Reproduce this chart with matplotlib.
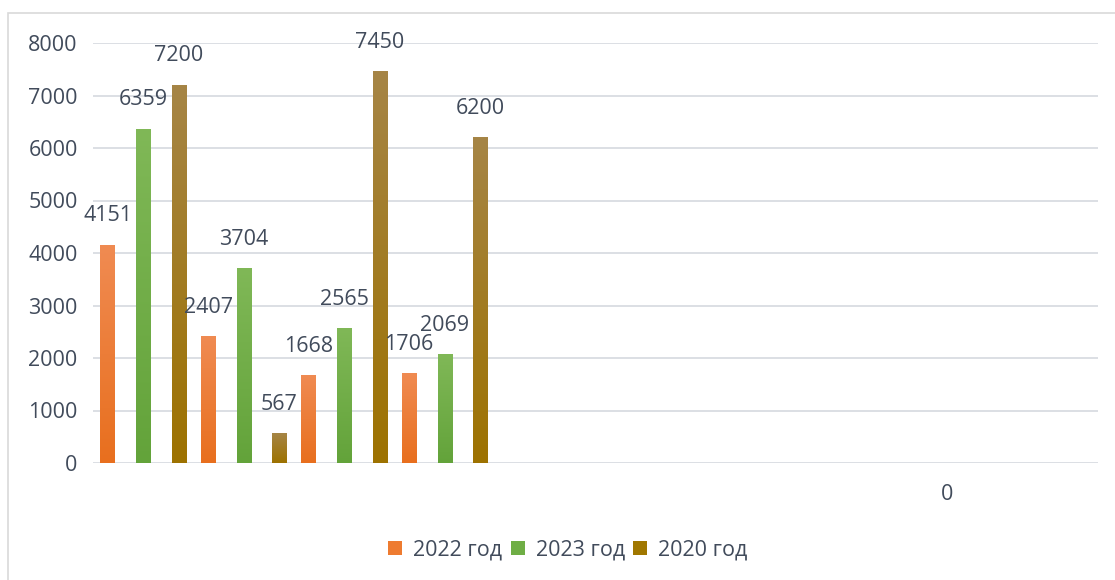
import numpy as np
import matplotlib
matplotlib.use('Agg')
import matplotlib.pyplot as plt
from matplotlib.patches import Patch, Rectangle
from matplotlib.colors import LinearSegmentedColormap

# Data
categories = ['', '', '', '', '', '', '', '', '0', '']
series_names = ['2022 год', '2023 год', '2020 год']
values_2022 = [4151, 2407, 1668, 1706]
values_2023 = [6359, 3704, 2565, 2069]
values_2020 = [7200, 567, 7450, 6200]
y_ticks = [0, 1000, 2000, 3000, 4000, 5000, 6000, 7000, 8000]

# (top colour, bottom colour) for the gradient fill
grad_colors = [('#F08B52', '#E86F1E'),
               ('#80B857', '#63A33A'),
               ('#A68546', '#9D7200')]
legend_colors = ['#EE7B30', '#6FAE45', '#A07700']

text_color = '#414B5B'
fs = 15.5
plt.rcParams['font.family'] = ['Open Sans', 'DejaVu Sans']

fig = plt.figure(figsize=(11.15, 5.8), dpi=100)
ax = fig.add_axes([93 / 1115, 117 / 580, 1005 / 1115, 420 / 580])

x = np.arange(len(categories))
offset = 0.355
width = 0.143
all_series = [values_2022, values_2023, values_2020]

for i, vals in enumerate(all_series):
    pos = x[:len(vals)] + (i - 1) * offset
    bars = ax.bar(pos, vals, width=width, color='none', zorder=3)
    cmap = LinearSegmentedColormap.from_list('g%d' % i, [grad_colors[i][1], grad_colors[i][0]])
    grad = np.linspace(0, 1, 256).reshape(-1, 1)
    for b, v in zip(bars, vals):
        ax.imshow(grad, cmap=cmap, origin='lower', aspect='auto', zorder=3,
                  extent=[b.get_x(), b.get_x() + b.get_width(), 0, b.get_height()])
        ax.annotate(str(v), (b.get_x() + b.get_width() / 2, v), xytext=(0, 21),
                    textcoords='offset points', ha='center', va='center',
                    fontsize=fs, color=text_color, zorder=4)

ax.set_xlim(-0.5, len(categories) - 0.5)
ax.set_ylim(0, 8000)
ax.set_yticks(y_ticks)
ax.set_yticklabels([str(t) for t in y_ticks])
ax.set_xticks(x)
ax.set_xticklabels(categories)
ax.tick_params(axis='both', length=0, labelsize=fs, labelcolor=text_color)
ax.tick_params(axis='y', pad=11)
ax.tick_params(axis='x', pad=15)
ax.grid(axis='y', color='#DCDFE4', linewidth=1.4, zorder=0)
ax.set_axisbelow(True)
for s in ax.spines.values():
    s.set_visible(False)

handles = [Patch(facecolor=c, edgecolor='none') for c in legend_colors]
fig.legend(handles, series_names, loc='center', bbox_to_anchor=(568 / 1115, 30 / 580),
           ncol=3, frameon=False, fontsize=fs, labelcolor=text_color,
           handlelength=0.65, handleheight=0.65, handletextpad=0.5, columnspacing=0.4)

# light chart frame
fig.patches.append(Rectangle((8 / 1115, -0.1), 1.2, (580 - 13) / 580 + 0.1,
                             transform=fig.transFigure, fill=False,
                             edgecolor='#D9D9D9', linewidth=1.2))

fig.savefig('out.png', dpi=100)
